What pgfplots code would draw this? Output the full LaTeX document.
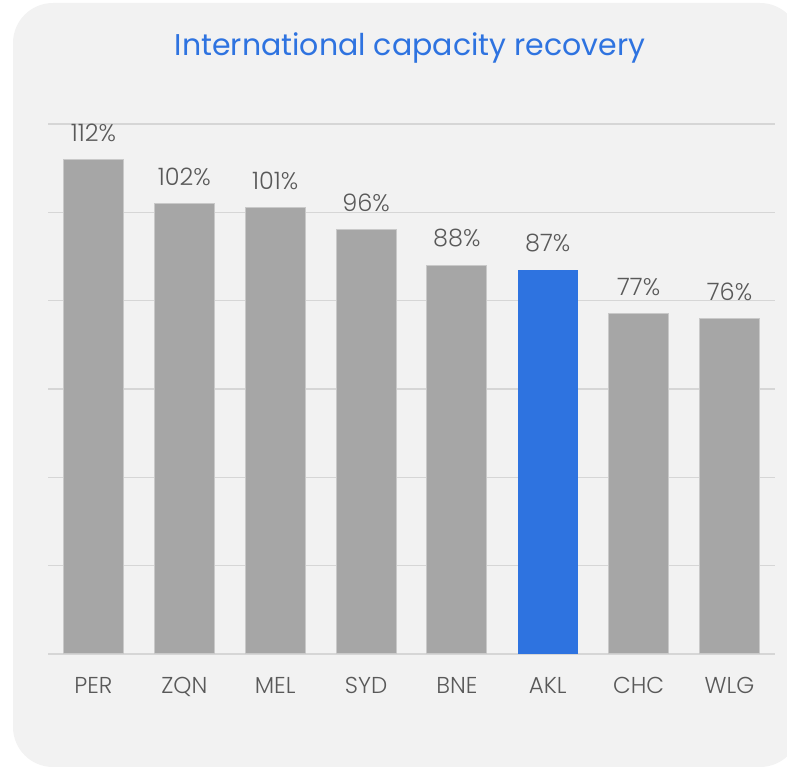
\documentclass[border=0pt]{standalone}
\usepackage{pgfplots}
\pgfplotsset{compat=1.18}
\usepackage{fontspec}
\setmainfont{Poppins}
\newfontfamily\poplight{Poppins Light}
\definecolor{bg}{HTML}{F2F2F2}
\definecolor{barg}{HTML}{A6A6A6}
\definecolor{bard}{HTML}{C9C9C9}
\definecolor{blu}{HTML}{2E73E0}
\definecolor{gridc}{HTML}{D6D6D6}
\definecolor{txt}{HTML}{595959}
\begin{document}
\begin{tikzpicture}[x=1pt,y=1pt]
\path[use as bounding box] (0,0) rectangle (787,768);
\begin{scope}
\clip (0,0) rectangle (787,768);
\fill[bg, rounded corners=40pt] (13,1) rectangle (800,765);
\end{scope}
\node[text=blu, font=\fontsize{30}{33}\selectfont, anchor=base] at (410,712) {International capacity recovery};
\begin{axis}[
  at={(48pt,114pt)}, anchor=south west,
  scale only axis, width=727pt, height=530pt,
  xmin=-0.5, xmax=7.5, ymin=0, ymax=120,
  axis line style={draw=none},
  ytick={0,20,...,120}, yticklabels={},
  ymajorgrids, xmajorgrids=false, grid style={draw=gridc, line width=1.5pt},
  major tick length=0pt,
  xtick={0,...,7},
  xticklabels={PER,ZQN,MEL,SYD,BNE,AKL,CHC,WLG},
  xticklabel style={text=txt, font=\poplight\fontsize{23}{26}\selectfont, yshift=-20pt},
  ybar, bar width=60pt, bar shift=0pt,
  /pgf/number format/assume math mode=true,
  nodes near coords={\pgfmathprintnumber{\pgfplotspointmeta}\%},
  nodes near coords style={text=txt, font=\poplight\fontsize{24}{27}\selectfont, anchor=south, yshift=14pt},
  point meta=y,
  clip=false,
]
\addplot[fill=barg, draw=bard, line width=1pt] coordinates {(0,112) (1,102) (2,101) (3,96) (4,88) (6,77) (7,76)};
\addplot[fill=blu, draw=none] coordinates {(5,87)};
\end{axis}
\end{tikzpicture}
\end{document}
